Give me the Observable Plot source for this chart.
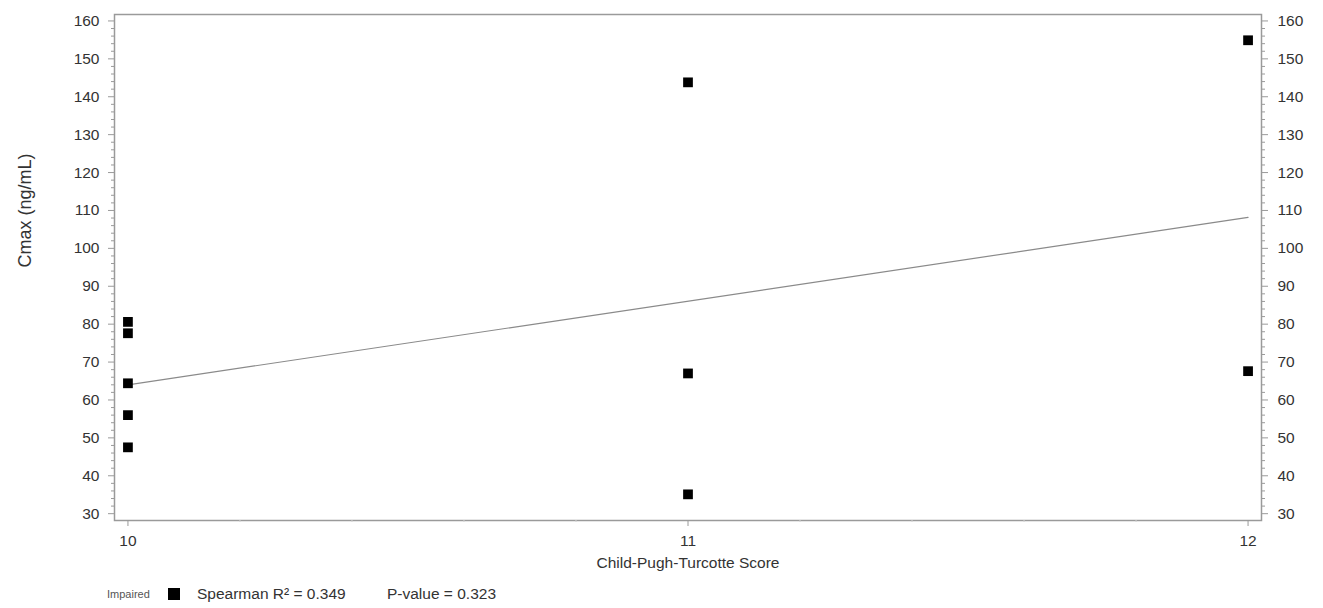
<!DOCTYPE html>
<html>
<head>
<meta charset="utf-8">
<script src="https://cdn.jsdelivr.net/npm/d3@7"></script>
<script src="https://cdn.jsdelivr.net/npm/@observablehq/plot@0.6"></script>
<style>
  html, body { margin: 0; padding: 0; background: #fff; }
  body { width: 1323px; font-family: "Liberation Sans", Arial, sans-serif; }
  #chart svg { display: block; }
  .legend { position: relative; height: 28px; color: #333; }
  .legend span { position: absolute; top: 50%; transform: translateY(-50%); white-space: nowrap; }
  .legend .grp { left: 107px; font-size: 11px; color: #555; }
  .legend .sw { left: 168px; width: 12px; height: 12px; background: #000; }
  .legend .stat { left: 197px; font-size: 15.5px; }
  .legend .pval { left: 387px; font-size: 15.5px; }
</style>
</head>
<body>
<div id="chart"></div>
<div class="legend">
  <span class="grp">Impaired</span>
  <span class="sw"></span>
  <span class="stat">Spearman R² = 0.349</span>
  <span class="pval">P-value = 0.323</span>
</div>
<script>
// Child-Pugh-Turcotte score and Cmax for each impaired subject
const scores = [10, 10, 10, 10, 10, 11, 11, 11, 12, 12];
const cmax = [80.6, 77.6, 64.4, 56.0, 47.5, 143.8, 67.0, 35.1, 154.9, 67.6];

const xTicks = [10, 11, 12];
const xMinorTicks = d3.range(10, 12.001, 0.2).map(v => +v.toFixed(1)).filter(v => !xTicks.includes(v));
const yTicks = d3.range(30, 161, 10);
const yMinorTicks = d3.range(30, 161, 2).filter(v => v % 10 !== 0);

const xLabel = "Child-Pugh-Turcotte Score";
const yLabel = "Cmax (ng/mL)";

const data = scores.map((s, i) => ({score: s, cmax: cmax[i]}));

const axisColor = "#9a9a9a";
const textColor = "#333";

const chart = Plot.plot({
  width: 1323,
  height: 580,
  marginLeft: 114,
  marginRight: 62,
  marginTop: 14,
  marginBottom: 60,
  style: {fontFamily: "'Liberation Sans', Arial, sans-serif", fontSize: "15px", color: textColor, background: "#fff"},
  x: {domain: [9.976, 12.024]},
  y: {domain: [28.2, 161.7]},
  marks: [
    Plot.frame({stroke: axisColor, strokeWidth: 1.5}),
    // left axis
    Plot.axisY(yTicks, {anchor: "left", tickSize: 6, tickPadding: 9, stroke: axisColor, fill: textColor, fontSize: 15.5, label: null}),
    Plot.axisY(yMinorTicks, {anchor: "left", tickSize: 3, text: null, stroke: axisColor, label: null}),
    // right axis
    Plot.axisY(yTicks, {anchor: "right", tickSize: 6, tickPadding: 10, stroke: axisColor, fill: textColor, fontSize: 15.5, label: null}),
    Plot.axisY(yMinorTicks, {anchor: "right", tickSize: 3, text: null, stroke: axisColor, label: null}),
    // bottom axis
    Plot.axisX(xTicks, {anchor: "bottom", tickSize: 6, tickPadding: 8, tickFormat: "d", stroke: axisColor, fill: textColor, fontSize: 15.5, label: null}),
    Plot.axisX(xMinorTicks, {anchor: "bottom", tickSize: 2, text: null, stroke: "#d0d0d0", label: null}),
    // axis titles
    Plot.text([xLabel], {frameAnchor: "bottom", dy: 43, fontSize: 15.5, fill: textColor, lineAnchor: "middle"}),
    Plot.text([yLabel], {frameAnchor: "left", dx: -89, rotate: -90, fontSize: 18, fill: textColor, lineAnchor: "middle"}),
    // fitted line
    Plot.linearRegressionY(data, {x: "score", y: "cmax", ci: 0, stroke: "#8a8a8a", strokeWidth: 1.2}),
    // subjects
    Plot.dot(data, {x: "score", y: "cmax", symbol: "square", r: 5.5, fill: "#000", stroke: "none"})
  ]
});

document.getElementById("chart").append(chart);
</script>
</body>
</html>
